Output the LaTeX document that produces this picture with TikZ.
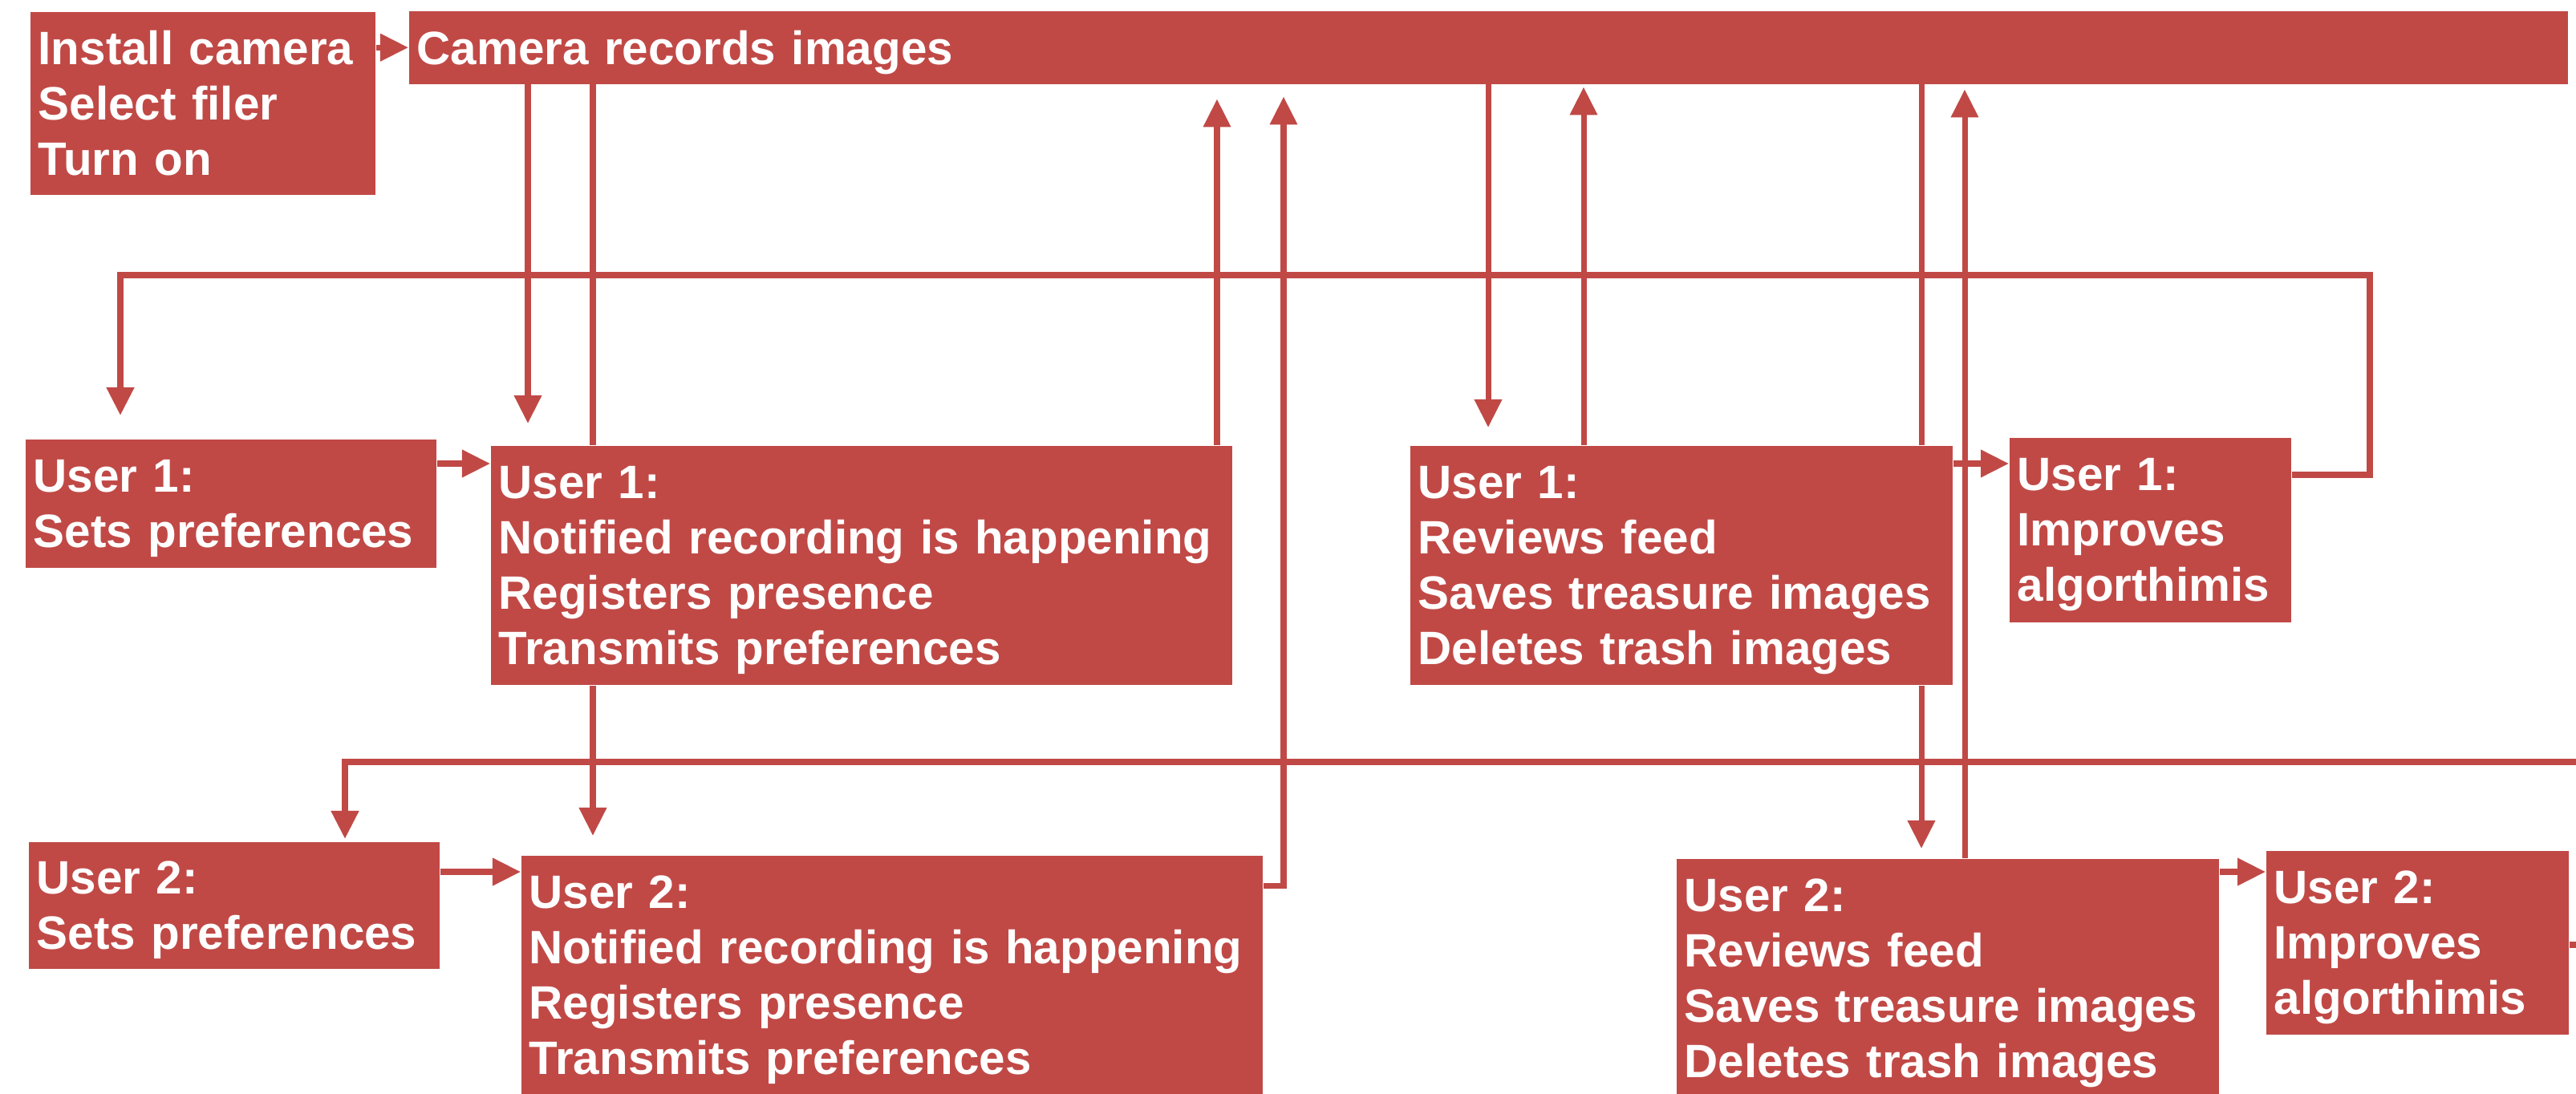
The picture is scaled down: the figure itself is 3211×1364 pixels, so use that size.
\documentclass[tikz,border=0pt]{standalone}
\usepackage{fontspec}
\setmainfont{Liberation Sans}
\usepackage{xcolor}
\usepackage{tikz}
\usetikzlibrary{arrows.meta}
\definecolor{boxred}{RGB}{192,73,70}

\begin{document}
\begin{tikzpicture}[x=0.01cm,y=-0.01cm,
  box/.style={fill=boxred,text=white,anchor=north west,align=left,inner xsep=0.1cm,inner ysep=0.05cm,font=\bfseries\fontsize{16.6pt}{19.6pt}\selectfont},
  rows/.style={text depth=#1*0.69cm},
  link/.style={draw=boxred,line width=2pt},
  arr/.style={link,-{Triangle[length=0.35cm,width=0.33cm]}},
  bus/.style={arr,line width=2.2pt}]
\useasboundingbox (0,0) rectangle (3211,1364);
\clip (0,0) rectangle (3211,1364);

\node[box,rows=2,text width=4.10cm,minimum height=2.28cm] (inst) at (37,14) {Install camera\\Select filer\\Turn on};
\node[box,rows=0,text width=26.70cm,minimum height=0.91cm] (cam) at (509,13) {Camera records images};
\node[box,rows=1,text width=4.92cm,minimum height=1.60cm] (u1set) at (31,547) {User 1:\\Sets preferences};
\node[box,rows=3,text width=9.04cm,minimum height=2.98cm] (u1not) at (611,555) {User 1:\\Notified recording is happening\\Registers presence\\Transmits preferences};
\node[box,rows=3,text width=6.56cm,minimum height=2.98cm] (u1rev) at (1757,555) {User 1:\\Reviews feed\\Saves treasure images\\Deletes trash images};
\node[box,rows=2,text width=3.31cm,minimum height=2.30cm] (u1imp) at (2504,545) {User 1:\\Improves\\algorthimis};
\node[box,rows=1,text width=4.92cm,minimum height=1.58cm] (u2set) at (35,1049) {User 2:\\Sets preferences};
\node[box,rows=3,text width=9.04cm,minimum height=2.98cm] (u2not) at (649,1066) {User 2:\\Notified recording is happening\\Registers presence\\Transmits preferences};
\node[box,rows=3,text width=6.56cm,minimum height=2.98cm] (u2rev) at (2089,1070) {User 2:\\Reviews feed\\Saves treasure images\\Deletes trash images};
\node[box,rows=2,text width=3.57cm,minimum height=2.29cm] (u2imp) at (2824,1060) {User 2:\\Improves\\algorthimis};

\coordinate (r1) at (0,578);
\coordinate (r2) at (0,1087);
\coordinate (c1) at (658,0);
\coordinate (c2) at (739,0);
\coordinate (c3) at (1517,0);
\coordinate (c4) at (1600,0);
\coordinate (c5) at (1855,0);
\coordinate (c6) at (1974,0);
\coordinate (c7) at (2395,0);
\coordinate (c8) at (2449,0);
\coordinate (bus1) at (2954,343);
\coordinate (bus1l) at (150,343);
\coordinate (bus2) at (3240,950);
\coordinate (bus2l) at (430,950);

\path (inst.east |- cam.west) edge[arr] (cam.west);
\path (u1set.east |- r1) edge[arr] (u1not.west |- r1);
\path (u1rev.east |- r1) edge[arr] (u1imp.west |- r1);
\path (u2set.east |- r2) edge[arr] (u2not.west |- r2);
\path (u2rev.east |- r2) edge[arr] (u2imp.west |- r2);

\path (c1 |- cam.south) edge[arr,shorten >=0.27cm] (c1 |- u1not.north);
\path (c2 |- cam.south) edge[link] (c2 |- u1not.north);
\path (c2 |- u1not.south) edge[arr,shorten >=0.24cm] (c2 |- u2not.north);
\path (c3 |- u1not.north) edge[arr,shorten >=0.18cm] (c3 |- cam.south);
\draw[arr,shorten >=0.15cm] ([yshift=-0.38cm]u2not.north east) -| (c4 |- cam.south);
\path (c5 |- cam.south) edge[arr,shorten >=0.22cm] (c5 |- u1rev.north);
\path (c6 |- u1rev.north) edge[arr,shorten >=0.03cm] (c6 |- cam.south);
\path (c7 |- cam.south) edge[link] (c7 |- u1rev.north);
\path (c7 |- u1rev.south) edge[arr,shorten >=0.12cm] (c7 |- u2rev.north);
\path (c8 |- u2rev.north) edge[arr,shorten >=0.06cm] (c8 |- cam.south);

\draw[bus,shorten >=0.29cm] ([yshift=-0.47cm]u1imp.north east) -| (bus1) -| (bus1l |- u1set.north);
\draw[bus,shorten >=0.03cm] ([yshift=-1.18cm]u2imp.north east) -| (bus2) -| (bus2l |- u2set.north);

\end{tikzpicture}
\end{document}
